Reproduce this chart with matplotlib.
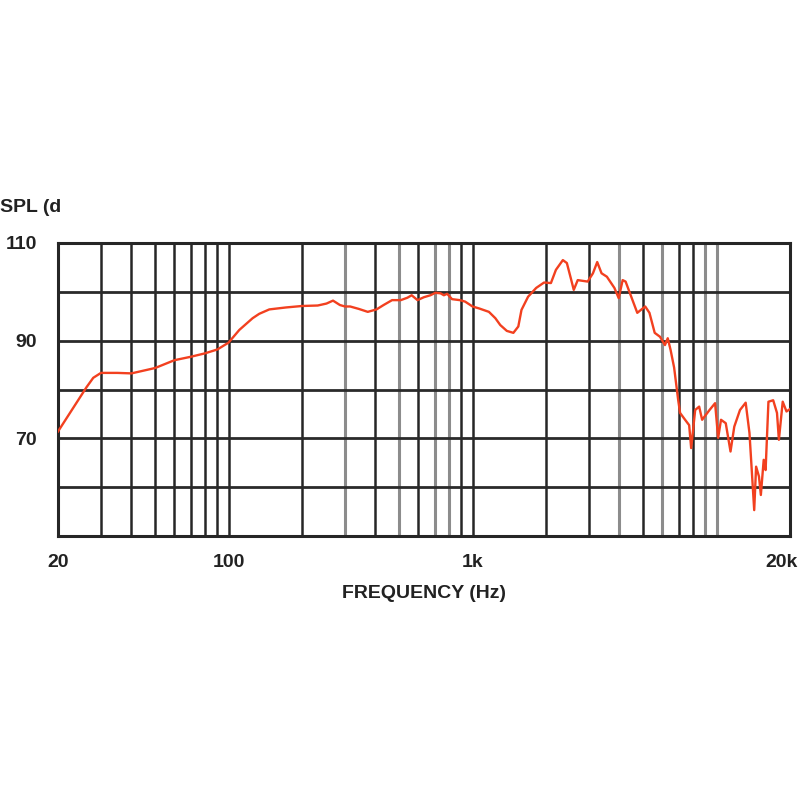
import matplotlib
matplotlib.use("Agg")
import matplotlib.pyplot as plt
import matplotlib.transforms as mtransforms
import numpy as np

# Frequency response data (Hz, dB SPL)
freq = [20, 26.2, 27.9, 30, 35, 40, 50, 60, 70, 80, 90, 100, 110.7, 125.5, 133.6,
        146.9, 171.9, 200, 232, 252, 268, 286, 300, 315, 342, 372, 404, 432, 468,
        508, 541, 563, 595, 632, 672, 704, 739, 763, 787, 824, 887, 932, 1000,
        1064, 1167, 1240, 1299, 1382, 1470, 1540, 1587, 1689, 1823, 1963, 2095,
        2196, 2345, 2435, 2527, 2599, 2698, 2963, 3115, 3243, 3378, 3552, 3814,
        3972, 4123, 4239, 4440, 4733, 5101, 5309, 5579, 5864, 6145, 6310, 6481,
        6700, 6956, 7088, 7432, 7722, 7870, 8173, 8486, 8728, 9357, 9863, 10153,
        10430, 10907, 11409, 11822, 12475, 13163, 13643, 14267, 14525, 14920,
        15190, 15604, 15887, 16318, 17067, 17690, 18010, 18670, 19350, 20000]
spl = [71.4, 80.5, 82.4, 83.4, 83.4, 83.3, 84.4, 86.0, 86.7, 87.4, 88.2, 89.6, 92.2,
       94.6, 95.5, 96.4, 96.8, 97.1, 97.2, 97.6, 98.2, 97.3, 97.0, 97.0, 96.5, 95.9,
       96.4, 97.3, 98.3, 98.3, 98.8, 99.3, 98.3, 98.9, 99.3, 99.8, 99.7, 99.3, 99.6,
       98.5, 98.3, 98.0, 97.0, 96.6, 95.9, 94.6, 93.2, 92.0, 91.6, 92.9, 96.3, 99.0,
       100.8, 101.9, 101.8, 104.5, 106.5, 105.9, 102.8, 100.4, 102.4, 102.1, 103.8,
       106.1, 103.8, 103.1, 100.8, 98.7, 102.4, 102.1, 99.4, 95.7, 97.0, 95.7, 91.6,
       90.8, 89.1, 90.5, 88.1, 84.5, 78.0, 75.2, 73.8, 72.7, 68.0, 75.8, 76.5, 73.8,
       75.8, 77.2, 70.1, 73.8, 73.1, 67.3, 72.4, 75.8, 77.3, 71.1, 55.3, 64.2, 62.2,
       58.4, 65.6, 63.5, 77.5, 77.8, 75.2, 69.7, 77.5, 75.5, 76.0]

y_ticks = [70, 90, 110]
y_ticklabels = ["70", "90", "110"]
x_ticks = [20, 100, 1000, 20000]
x_ticklabels = ["20", "100", "1k", "20k"]
h_grid = [50, 60, 70, 80, 90, 100, 110]
v_grid_dark = [30, 40, 50, 60, 70, 80, 90, 100, 200, 400, 600, 900, 1000,
               2000, 3000, 5000, 7000, 8000]
v_grid_gray = [300, 500, 700, 800, 4000, 6000, 9000, 10000]

font = ["Liberation Sans", "DejaVu Sans"]
fs = 14

fig = plt.figure(figsize=(8, 8), dpi=100)
ax = fig.add_axes([58 / 800, 1 - 536 / 800, 732 / 800, 293 / 800])
ax.set_xscale("log")
ax.set_xlim(20, 20000)
ax.set_ylim(50, 110)

for v in v_grid_gray:
    ax.axvline(v, color="#8c8c8c", lw=2.2, zorder=1)
for v in v_grid_dark:
    ax.axvline(v, color="#262626", lw=1.8, zorder=1.1)
for h in h_grid:
    ax.axhline(h, color="#2a2a2a", lw=2.0, zorder=1.2)

ax.plot(freq, spl, color="#f2401f", lw=1.7, zorder=3)

for s in ax.spines.values():
    s.set_color("#262626")
    s.set_linewidth(2.2)

ax.minorticks_off()
ax.set_xticks(x_ticks)
ax.set_xticklabels(x_ticklabels)
ax.set_yticks(y_ticks)
ax.set_yticklabels(y_ticklabels)
ax.tick_params(axis="x", length=0, pad=13)
ax.tick_params(axis="y", length=0, pad=15)
for lab in ax.get_xticklabels() + ax.get_yticklabels():
    lab.set_family(font)
    lab.set_fontsize(fs)
    lab.set_fontweight("bold")
    lab.set_color("#222222")
# keep the last x label inside the canvas
last = ax.get_xticklabels()[-1]
last.set_transform(last.get_transform() +
                   mtransforms.ScaledTranslation(-8 / 100, 0, fig.dpi_scale_trans))

ax.set_xlabel("FREQUENCY (Hz)", family=font, fontsize=fs, fontweight="bold",
              color="#222222", labelpad=10)
fig.text(0.0, 1 - 208 / 800, "SPL (d", family=font, fontsize=fs,
         fontweight="bold", color="#222222", ha="left", va="center")

fig.savefig("out.png", dpi=100, facecolor="white")
